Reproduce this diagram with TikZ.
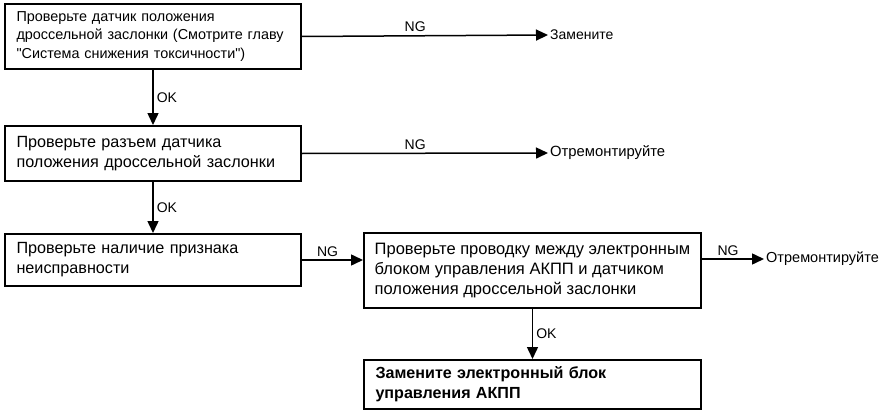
\documentclass[tikz,border=0pt]{standalone}
\usepackage{fontspec}
\setmainfont{Liberation Sans}
\usetikzlibrary{arrows.meta,positioning,calc}

\tikzset{
  stepbox/.style={draw,line width=2pt,anchor=north west,align=left,
    inner xsep=11pt,inner ysep=4pt,font=\fontsize{14.4}{18.5}\selectfont},
  big/.style={font=\fontsize{16.2}{20}\selectfont},
  flow/.style={line width=1.5pt,-{Triangle[length=12pt,width=11pt]}},
  lbl/.style={font=\fontsize{14}{16}\selectfont,inner sep=3pt},
  fix/.style={anchor=west,inner sep=2pt,font=\fontsize{14}{16}\selectfont}
}

\begin{document}
\begin{tikzpicture}[x=1pt,y=-1pt]
  \useasboundingbox (0,0) rectangle (881,412);

  % ===== Boxes =====
  \node[stepbox,minimum width=296pt,minimum height=65pt,text width=273pt] (tps) at (4,3)
    {Проверьте датчик положения\\дроссельной заслонки (Смотрите главу\\\textquotedbl Система снижения токсичности\textquotedbl)};
  \node[stepbox,big,minimum width=296pt,minimum height=55pt,text width=273pt] (conn) at (4,125)
    {Проверьте разъем датчика\\положения дроссельной заслонки};
  \node[stepbox,big,minimum width=296pt,minimum height=52pt,text width=273pt] (symp) at (4,233)
    {Проверьте наличие признака\\неисправности};
  % no text width: the block of lines is centred in the box
  \node[stepbox,minimum width=337pt,minimum height=75pt,inner xsep=6pt,
        font=\fontsize{16.5}{20}\selectfont] (wire) at (363,232)
    {Проверьте проводку между электронным\\блоком управления АКПП и датчиком\\положения дроссельной заслонки};
  \node[stepbox,minimum width=337pt,minimum height=49pt,text width=314pt,font=\fontsize{16.1}{20}\selectfont\bfseries] (ecu) at (363,359)
    {Замените электронный блок\\управления АКПП};

  % ===== Results =====
  \node[fix] (rep) at (548,35) {Замените};
  \node[fix,font=\fontsize{14.8}{17}\selectfont] (fixa) at (548,153) {Отремонтируйте};
  \node[fix,font=\fontsize{14.5}{17}\selectfont] (fixb) at (764,259) {Отремонтируйте};

  % ===== Connectors =====
  \draw[flow] (tps.south) -- node[lbl,right] {OK} (conn.north);
  \draw[flow] (conn.south) -- node[lbl,right] {OK} (symp.north);
  \draw[flow] (wire.south) -- node[lbl,right] {OK} (ecu.north);

  \draw[flow] (tps.east) -- node[lbl,above,pos=0.46] {NG} (rep.west);
  \draw[flow] (conn.east) -- node[lbl,above,pos=0.46] {NG} (fixa.west);
  \draw[flow] (symp.east) -- node[lbl,above,pos=0.42] {NG} (symp.east -| wire.west);
  \draw[flow] (wire.east |- fixb) -- node[lbl,above,pos=0.42] {NG} (fixb.west);
\end{tikzpicture}
\end{document}
